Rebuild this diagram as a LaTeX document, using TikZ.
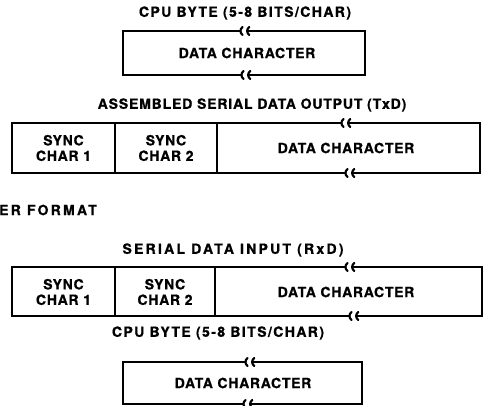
\documentclass[tikz,border=0pt]{standalone}
\usepackage{fontspec}
% bold Helvetica-like faces with three amounts of tracking
\newfontfamily\fnorm{TeX Gyre Heros}[BoldFeatures={FakeBold=0.8,LetterSpace=5}]
\newfontfamily\ftitle{TeX Gyre Heros}[BoldFeatures={FakeBold=0.8,LetterSpace=6}]
\newfontfamily\fmid{TeX Gyre Heros}[BoldFeatures={FakeBold=0.8,LetterSpace=10}]
\newfontfamily\fwide{TeX Gyre Heros}[BoldFeatures={FakeBold=0.8,LetterSpace=16}]
% break symbol in a horizontal border: two small curls around a gap at (#1,#2)
\newcommand\gapcurl[2]{%
  \draw[curl] (#1-2.5,#2-4) .. controls (#1-5.2,#2-1.5) and (#1-5.2,#2+1.5) .. (#1-2.5,#2+4);
  \draw[curl] (#1+4.2,#2-4) .. controls (#1+1.5,#2-1.5) and (#1+1.5,#2+1.5) .. (#1+4.2,#2+4);
}
% box with one break in the top and one in the bottom border
\newcommand\brokenbox[6]{% left, top, right, bottom, top gap x, bottom gap x
  \draw[frame] (#5-4.5,#2) -- (#1,#2) -- (#1,#4) -- (#6-4.5,#4);
  \draw[frame] (#5+2,#2) -- (#3,#2) -- (#3,#4) -- (#6+2,#4);
  \gapcurl{#5}{#2}
  \gapcurl{#6}{#4}
}
\begin{document}
\begin{tikzpicture}[x=1pt,y=-1pt,
  frame/.style={line width=1.6pt, line cap=butt},
  curl/.style={line width=2.2pt, line cap=round},
  lbl/.style={font=\fontsize{14}{15.5}\fnorm\bfseries, inner sep=0pt, align=center},
  ttl/.style={lbl, font=\fontsize{14}{15.5}\ftitle\bfseries},
  cputtl/.style={lbl, font=\fontsize{14}{15.5}\fmid\bfseries},
  widettl/.style={lbl, font=\fontsize{14}{15.5}\fwide\bfseries},
]
\useasboundingbox (0,0) rectangle (489,406);
\fill[white] (0,0) rectangle (489,406);

% CPU byte (transmit side)
\node[cputtl] (cpuA) at (245,13) {CPU BYTE (5-8 BITS/CHAR)};
\brokenbox{123}{31}{365}{75}{245}{246}
\node[lbl] (dataA) at (247,53) {DATA CHARACTER};

% assembled serial output
\node[ttl] (txd) at (252,105) {ASSEMBLED SERIAL DATA OUTPUT (TxD)};
\brokenbox{12}{123}{480}{173}{346}{350}
\draw[frame] (115,123) -- (115,173);
\draw[frame] (217,123) -- (217,173);
\node[lbl] (s1A) at (63.5,148) {SYNC\\CHAR 1};
\node[lbl] (s2A) at (166,148) {SYNC\\CHAR 2};
\node[lbl] (dataB) at (346,148) {DATA CHARACTER};

\node[widettl, anchor=west] (fmt) at (-1,210) {ER FORMAT};

% serial input
\node[widettl] (rxd) at (233,250) {SERIAL DATA INPUT (RxD)};
\brokenbox{12}{267}{482}{316}{350}{354}
\draw[frame] (115,267) -- (115,316);
\draw[frame] (215,267) -- (215,316);
\node[lbl] (s1B) at (63.5,292) {SYNC\\CHAR 1};
\node[lbl] (s2B) at (165,292) {SYNC\\CHAR 2};
\node[lbl] (dataC) at (346,292) {DATA CHARACTER};

% CPU byte (receive side)
\node[cputtl] (cpuB) at (218,333) {CPU BYTE (5-8 BITS/CHAR)};
\brokenbox{123}{362}{362}{404}{250}{248}
\node[lbl] (dataD) at (243,383) {DATA CHARACTER};
\end{tikzpicture}
\end{document}
